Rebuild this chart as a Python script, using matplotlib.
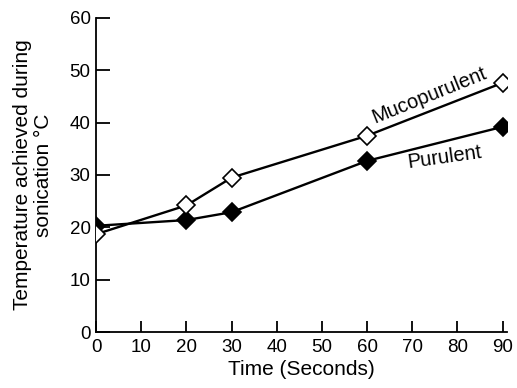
import matplotlib
matplotlib.use("Agg")
import matplotlib.pyplot as plt

time_s = [0, 20, 30, 60, 90]
mucopurulent = [18.7, 24.2, 29.5, 37.5, 47.6]
purulent = [20.3, 21.4, 22.9, 32.7, 39.2]
xticks = [0, 10, 20, 30, 40, 50, 60, 70, 80, 90]
yticks = [0, 10, 20, 30, 40, 50, 60]

plt.rcParams['font.family'] = ['Liberation Sans', 'DejaVu Sans']

fig = plt.figure(figsize=(5.17, 3.88), dpi=100)
ax = fig.add_axes([0.186, 0.144, 0.795, 0.810])

ax.plot(time_s, purulent, color='black', lw=1.7, marker='D', ms=9,
        mfc='black', mec='black', mew=1.2, zorder=3)
ax.plot(time_s, mucopurulent, color='black', lw=1.7, marker='D', ms=9,
        mfc='white', mec='black', mew=1.2, zorder=4)

ax.set_xlim(0, 91)
ax.set_ylim(0, 60)
ax.set_xticks(xticks)
ax.set_yticks(yticks)
for s in ['top', 'right']:
    ax.spines[s].set_visible(False)
for s in ['left', 'bottom']:
    ax.spines[s].set_linewidth(1.3)
ax.tick_params(axis='y', direction='in', length=10, width=1.3, labelsize=13.5, pad=4)
ax.tick_params(axis='x', direction='in', length=8, width=1.3, labelsize=13.5, pad=5)
for lab in ax.get_xticklabels() + ax.get_yticklabels():
    lab.set_clip_on(False)

ax.set_xlabel('Time (Seconds)', fontsize=15, labelpad=3)
ax.set_ylabel('Temperature achieved during\nsonication \u00b0C', fontsize=15,
              labelpad=12, linespacing=1.15)

ax.text(73.7, 45.3, 'Mucopurulent', rotation=22, fontsize=14.5,
        ha='center', va='center', rotation_mode='anchor')
ax.text(77.2, 33.3, 'Purulent', rotation=8, fontsize=14.5,
        ha='center', va='center', rotation_mode='anchor')

fig.savefig('out.png', dpi=100)
